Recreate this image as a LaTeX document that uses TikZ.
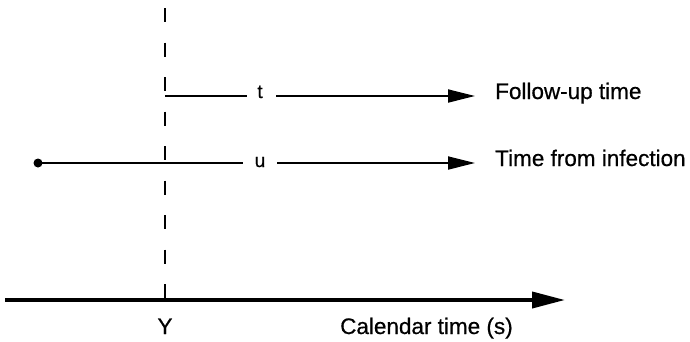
\documentclass[tikz,border=0pt]{standalone}
\usepackage{fontspec}
\setmainfont{Liberation Sans}
\newfontfamily\heavyfont{Liberation Sans}[FakeBold=0.6]
\usetikzlibrary{arrows.meta}
\begin{document}
\begin{tikzpicture}[x=1pt,y=-1pt,
  thinline/.style={line width=1.8pt},
  arr/.style={thinline,-{Triangle[length=27pt,width=13pt]}},
  axisline/.style={line width=3.8pt,-{Triangle[length=33pt,width=16pt]}},
  dashline/.style={line width=1.8pt,dash pattern=on 14pt off 20.5pt},
  lbl/.style={font=\heavyfont\fontsize{22.5}{24}\selectfont, inner sep=0pt, anchor=base west},
  sym/.style={font=\heavyfont\fontsize{19}{20}\selectfont, inner sep=0pt, anchor=base},
]
\useasboundingbox (0,0) rectangle (690,341);
% coordinates
\coordinate (ytop) at (165,8);
\coordinate (ybot) at (165,300);
\coordinate (tstart) at (165,96);
\coordinate (t1) at (247,96);
\coordinate (t2) at (276,96);
\coordinate (ttip) at (475,96);
\coordinate (inf) at (38,163);
\coordinate (u1) at (243,163);
\coordinate (u2) at (277,163);
\coordinate (utip) at (475,163);
\coordinate (ax0) at (5,300);
\coordinate (ax1) at (565,300);
% dashed line
\draw[dashline] (ytop) -- (ybot);
% follow-up line
\node[sym] (t) at (260,98) {t};
\draw[thinline] (tstart) -- (t1);
\draw[arr] (t2) -- (ttip);
\node[lbl] (fu) at (495,99) {Follow-up time};
% time from infection
\fill (inf) circle (4.5pt);
\node[sym] (u) at (260,167) {u};
\draw[thinline] (inf) -- (u1);
\draw[arr] (u2) -- (utip);
\node[lbl] (tfi) at (495,166) {Time from infection};
% axis
\draw[axisline] (ax0) -- (ax1);
\node[lbl,anchor=base] (Y) at (165,334) {Y};
\node[lbl] (cal) at (340,334) {Calendar time (s)};
\end{tikzpicture}
\end{document}
